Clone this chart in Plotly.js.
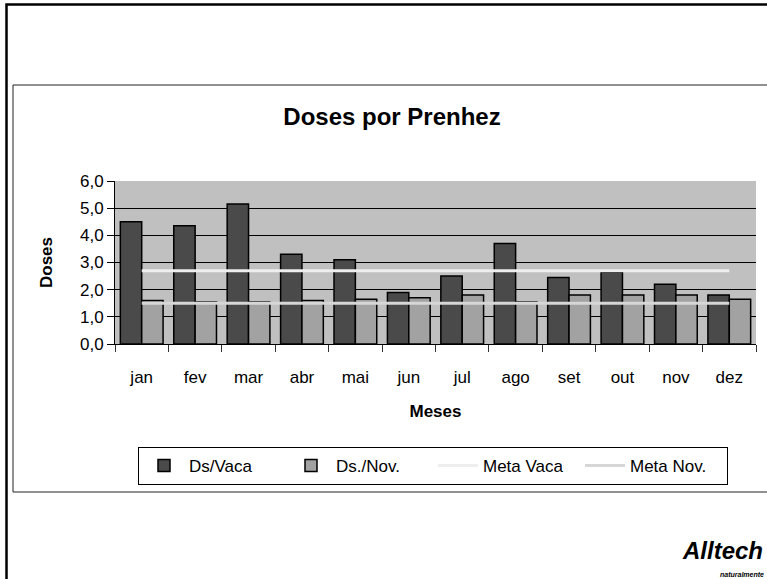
<!DOCTYPE html>
<html>
<head>
<meta charset="utf-8">
<script src="https://cdn.plot.ly/plotly-3.0.1.min.js"></script>
<style>
html,body{margin:0;padding:0;background:#fff;}
#chart{width:767px;height:579px;}
</style>
</head>
<body>
<div id="chart"></div>
<script>
const months = ["jan","fev","mar","abr","mai","jun","jul","ago","set","out","nov","dez"];
const dsVaca = [4.5, 4.35, 5.15, 3.3, 3.1, 1.9, 2.5, 3.7, 2.45, 2.65, 2.2, 1.8];
const dsNov  = [1.6, 1.55, 1.55, 1.6, 1.65, 1.7, 1.8, 1.55, 1.8, 1.8, 1.8, 1.65];
const metaVaca = [2.7, 2.7, 2.7, 2.7, 2.7, 2.7, 2.7, 2.7, 2.7, 2.7, 2.7, 2.7];
const metaNov  = [1.5, 1.5, 1.5, 1.5, 1.5, 1.5, 1.5, 1.5, 1.5, 1.5, 1.5, 1.5];
const yTicks = [0, 1, 2, 3, 4, 5, 6];
const yGrid = [1, 2, 3, 4, 5];

const FONT = "'Liberation Sans', Arial, sans-serif";

const traces = [
  {type:"bar", name:"Ds/Vaca", x:months, y:dsVaca,
   marker:{color:"#4a4a4a", line:{color:"#000", width:1.5}}},
  {type:"bar", name:"Ds./Nov.", x:months, y:dsNov,
   marker:{color:"#a2a2a2", line:{color:"#000", width:1.5}}},
  {type:"scatter", mode:"lines", name:"Meta Vaca", x:months, y:metaVaca,
   line:{color:"#eeeeee", width:3}},
  {type:"scatter", mode:"lines", name:"Meta Nov.", x:months, y:metaNov,
   line:{color:"#d6d6d6", width:3}}
];

// plot area: x 115..756, y 181..344
const L=115, R=756, T=181, B=344;
const px = v => (v - L) / (R - L);
const py = v => (B - v) / (B - T);

const layout = {
  width:767, height:579,
  margin:{l:L, r:767-R, t:T, b:579-B, pad:0},
  paper_bgcolor:"#ffffff",
  plot_bgcolor:"#c0c0c0",
  separators:",.",
  font:{family:FONT, size:16, color:"#000"},
  showlegend:true,
  barmode:"group", bargap:0.2, bargroupgap:0,
  title:{text:"<b>Doses por Prenhez</b>", font:{family:FONT, size:24, color:"#000"},
         x:392/767, xref:"container", y:1-117/579, yref:"container", yanchor:"middle", xanchor:"center"},
  xaxis:{
    type:"category", range:[-0.5, months.length-0.5],
    showline:true, linecolor:"#000", linewidth:1,
    ticks:"outside", ticklen:7, tickcolor:"#333", tickwidth:1,
    tickson:"boundaries",
    ticklabelstandoff:18,
    showgrid:false, zeroline:false,
    tickfont:{family:FONT, size:17, color:"#000"},
    title:{text:"<b>Meses</b>", font:{family:FONT, size:17, color:"#000"}, standoff:18},
    fixedrange:true
  },
  yaxis:{
    range:[0,6], tickvals:yTicks, tickformat:".1f",
    showline:true, linecolor:"#000", linewidth:1,
    ticks:"outside", ticklen:7, tickcolor:"#000",
    showgrid:false,
    zeroline:false,
    tickfont:{family:FONT, size:17, color:"#000"},
    title:{text:"<b>Doses</b>", font:{family:FONT, size:17, color:"#000"}, standoff:23},
    fixedrange:true
  },
  yaxis2:{
    overlaying:"y", range:[0,6], tickvals:yGrid,
    showticklabels:false, ticks:"", showline:false, zeroline:false,
    showgrid:true, gridcolor:"#000", gridwidth:1, fixedrange:true
  },
  legend:{
    orientation:"h", x:px(433), xanchor:"center", y:py(447), yanchor:"top",
    bordercolor:"#000", borderwidth:1, bgcolor:"#fff",
    font:{family:FONT, size:17, color:"#000"},
    traceorder:"normal", itemwidth:40,
    entrywidth:92, entrywidthmode:"pixels"
  },
  shapes:[
    {type:"rect", xref:"paper", yref:"paper", x0:px(6.5), x1:px(820), y0:py(4.5), y1:py(720),
     line:{color:"#000", width:2.5}, fillcolor:"rgba(0,0,0,0)", layer:"above"},
    {type:"rect", xref:"paper", yref:"paper", x0:px(13), x1:px(800), y0:py(85), y1:py(492),
     line:{color:"#222", width:1}, fillcolor:"rgba(0,0,0,0)", layer:"above"}
  ],
  annotations:[
    {xref:"paper", yref:"paper", x:px(765), y:py(550), xanchor:"right", yanchor:"middle",
     text:"<b><i>Alltech</i></b>", showarrow:false, font:{family:FONT, size:24, color:"#000"}},
    {xref:"paper", yref:"paper", x:px(766), y:py(574), xanchor:"right", yanchor:"middle",
     text:"<b><i>naturalmente</i></b>", showarrow:false, font:{family:FONT, size:7, color:"#000"}}
  ]
};

// invisible helper trace so that yaxis2 (grid only) is drawn
traces.push({type:"scatter", x:[months[0]], y:[yGrid[0]], yaxis:"y2", mode:"lines",
             line:{width:0}, showlegend:false, hoverinfo:"skip"});

Plotly.newPlot("chart", traces, layout, {displayModeBar:false, staticPlot:true});
</script>
</body>
</html>
